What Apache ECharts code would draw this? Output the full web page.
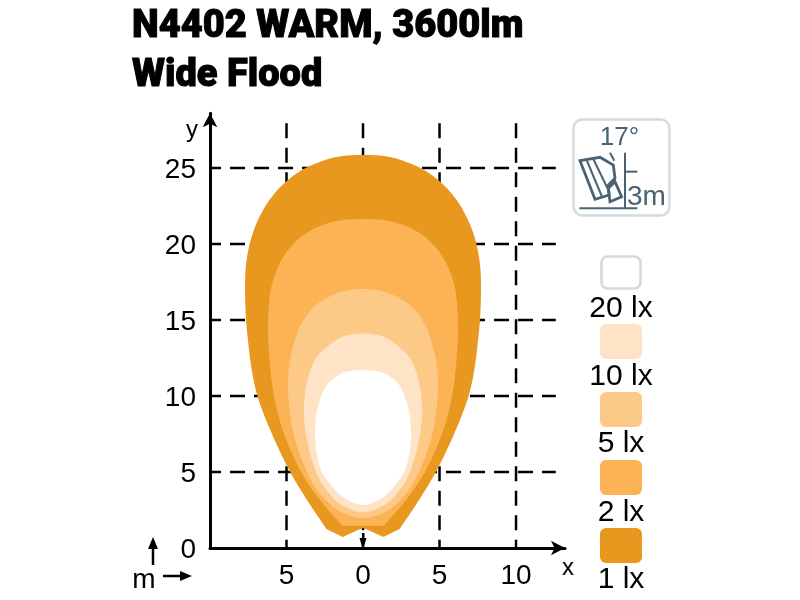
<!DOCTYPE html>
<html>
<head>
<meta charset="utf-8">
<style>html,body{margin:0;padding:0;background:#fff}#c{width:800px;height:600px}</style>
<script src="https://cdn.jsdelivr.net/npm/echarts@6/dist/echarts.min.js"></script>
</head>
<body>
<div id="c"></div>
<script>
// Half-widths (m) against distance (m); the pattern is symmetric about x = 0.
var curve1lx = [[0,25.86],[1.57,25.76],[2.47,25.53],[3.78,24.98],[4.49,24.54],[5.03,24.10],[5.59,23.55],[6.12,22.89],[6.41,22.45],[7.01,21.25],[7.41,20],[7.65,18.62],[7.71,17.17],[7.65,15.13],[7.52,13.68],[7.29,11.84],[6.90,10],[5.95,7.5],[4.77,5.02],[3.66,3.16],[2.39,1.25]];
var base1lx = [[1.33,0.72],[0.33,1.18],[0,1.32]];
var curve2lx = [[0,21.64],[1.31,21.58],[2.14,21.41],[2.94,21.14],[3.89,20.59],[4.56,20],[5.20,19.16],[5.69,18.16],[6.03,16.97],[6.21,14.67],[6.11,12.37],[5.82,10],[5.16,7.5],[4.05,5.02],[2.81,3.16],[1.37,1.47]];
var base2lx = [[0,1.47]];
var curve5lx = [[0,17.04],[1.05,16.94],[1.83,16.71],[3.20,15.88],[4.12,14.56],[4.44,13.68],[4.77,12.37],[4.90,10.72],[4.80,9.08],[4.44,7.11],[3.66,5.02],[3.01,3.82],[1.96,2.72],[1.18,2.24],[0,1.97]];
var curve10lx = [[0,14.11],[1.18,13.95],[1.76,13.68],[3.0,12.59],[3.63,11.05],[3.86,9.08],[3.66,7.11],[3.07,5.02],[2.39,3.82],[1.41,2.83],[0,2.37]];
var curve20lx = [[0,11.71],[0.9,11.64],[1.35,11.51],[2.26,10.86],[2.94,9.3],[3.14,7.3],[2.94,5.79],[2.7,5.02],[2.35,4.47],[1.37,3.38],[0,2.83]];

var legendLabels = ['20 lx','10 lx','5 lx','2 lx','1 lx'];
var legendColors = ['#ffffff','#fee3c7','#fdc986','#fbb355','#e8981f'];
var gridX = [-5,0,5,10];
var gridY = [5,10,15,20,25];
var titleText = 'N4402 WARM, 3600lm\nWide Flood';

var levels = [
  {name:'1 lx', curve:curve1lx, base:base1lx, color:'#e8981f'},
  {name:'2 lx', curve:curve2lx, base:base2lx, color:'#fbb355'},
  {name:'5 lx', curve:curve5lx, base:[], color:'#fdc986'},
  {name:'10 lx', curve:curve10lx, base:[], color:'#fee3c7'},
  {name:'20 lx', curve:curve20lx, base:[], color:'#ffffff'}
];

// Centripetal Catmull-Rom drawing of the traced outline: same job as a "smooth" line.
function lerp(a,b,ta,tb,t){return [0,1].map(function(j){return (a[j]*(tb-t)+b[j]*(t-ta))/(tb-ta);});}
function spline(p,closedEnd){
  var out=[];
  for(var i=0;i<p.length-1;i++){
    var b=p[i],c=p[i+1];
    var a=i>0?p[i-1]:[-c[0],c[1]];
    var d=i<p.length-2?p[i+2]:(closedEnd?[-b[0],b[1]]:[2*c[0]-b[0],2*c[1]-b[1]]);
    var gap=function(u,v){return Math.pow(Math.hypot(u[0]-v[0],u[1]-v[1]),0.5);};
    var t0=0,t1=t0+gap(a,b),t2=t1+gap(b,c),t3=t2+gap(c,d);
    for(var k=0;k<12;k++){
      var t=t1+(t2-t1)*k/12;
      var a1=lerp(a,b,t0,t1,t),a2=lerp(b,c,t1,t2,t),a3=lerp(c,d,t2,t3,t);
      var b1=lerp(a1,a2,t0,t2,t),b2=lerp(a2,a3,t1,t3,t);
      out.push(lerp(b1,b2,t1,t2,t));
    }
  }
  out.push(p[p.length-1]);
  return out;
}
function outline(level){
  var right=spline(level.curve,level.base.length===0).concat(level.base);
  var left=right.slice().reverse().map(function(q){return [-q[0],q[1]];});
  return right.concat(left);
}

var series=[];
gridX.forEach(function(x){
  series.push({type:'line',silent:true,showSymbol:false,z:1,data:[[x,27.95],[x,0]],
    lineStyle:{color:'#000',width:2.5,type:[15,9.5]}});
});
gridY.forEach(function(y){
  series.push({type:'line',silent:true,showSymbol:false,z:1,data:[[-10,y],[12.6,y]],
    lineStyle:{color:'#000',width:2.5,type:[15,9],dashOffset:4}});
});
levels.forEach(function(level,n){
  var pts=outline(level);
  series.push({
    type:'custom',name:level.name,silent:true,z:2+n,clip:false,
    data:[[0,0]],encode:{x:0,y:1},
    renderItem:function(params,api){
      return {type:'polygon',shape:{points:pts.map(function(q){return api.coord(q);})},
        style:{fill:level.color,stroke:null}};
    }
  });
});

var g=[];
function txt(t,x,baseline,size,fill,align){
  return {type:'text',x:x,y:baseline+Math.round(size*0.2),style:{text:t,fill:fill,font:size+'px "Liberation Sans"',align:align,verticalAlign:'bottom'}};
}
// legend
var swatchTop=[255,324,392,460,528], labelBase=[317,385,452,521,588];
legendLabels.forEach(function(t,i){
  g.push({type:'rect',shape:{x:i===0?601.5:600,y:i===0?swatchTop[i]+1.5:swatchTop[i],width:i===0?39:42,height:i===0?32:35,r:6},
    style:{fill:legendColors[i],stroke:i===0?'#d8d8d8':null,lineWidth:2.5}});
  g.push(txt(t,621,labelBase[i]+1,30,'#000','center'));
});
// mounting icon
var ic='#4a6373';
function ip(list){return list.map(function(q){return [560+q[0]/3,110+q[1]/3];});}
g.push({type:'rect',shape:{x:573.5,y:119.5,width:96,height:96,r:9},style:{fill:'#fff',stroke:'#d6dadd',lineWidth:2.5}});
g.push(txt('17°',619.5,146,26,ic,'center'));
g.push(txt('3m',627,205,28,ic,'left'));
[
 {p:[[195,128],[195,295]]},{p:[[58,295],[232,295]]},{p:[[195,185],[232,185]]},{p:[[150,128],[163,152]]},
 {p:[[80,150],[125,258]]},{p:[[100,147],[145,240]]}
].forEach(function(o){
  g.push({type:'polyline',shape:{points:ip(o.p)},style:{stroke:ic,lineWidth:2,fill:null}});
});
g.push({type:'polygon',shape:{points:ip([[60,152],[120,142],[160,165],[165,205],[145,225],[147,255],[105,268]])},style:{fill:null,stroke:ic,lineWidth:2.8}});
g.push({type:'polygon',shape:{points:ip([[145,235],[165,215],[185,260],[150,275]])},style:{fill:null,stroke:ic,lineWidth:2.8}});
// unit arrows
g.push({type:'line',shape:{x1:153,y1:565,x2:153,y2:545},style:{stroke:'#000',lineWidth:2.5}});
g.push({type:'polygon',shape:{points:[[153,537],[148,549],[158,549]]},style:{fill:'#000'}});
g.push({type:'line',shape:{x1:163,y1:576,x2:183,y2:576},style:{stroke:'#000',lineWidth:2.5}});
g.push({type:'polygon',shape:{points:[[192,576],[180,571],[180,581]]},style:{fill:'#000'}});
g.push(txt('m',144,588,28,'#000','center'));
// lamp marker
g.push({type:'polygon',z:20,shape:{points:[[362,533],[364.5,533],[364.5,538],[366.5,538],[363,550],[359.5,538],[362,538]]},style:{fill:'#000'}});

var chart=echarts.init(document.getElementById('c'));
chart.setOption({
  animation:false,
  backgroundColor:'#fff',
  title:{text:titleText,left:127,top:-2,textStyle:{fontFamily:'Roboto',fontWeight:900,fontSize:38,lineHeight:49,color:'#000',textBorderColor:'#000',textBorderWidth:1}},
  grid:{left:210,right:235,top:113.3,bottom:52,containLabel:false},
  xAxis:{type:'value',min:-10,max:13.2,interval:5,name:'x',nameLocation:'end',nameGap:-3,
    nameTextStyle:{color:'#000',fontFamily:'Liberation Sans',fontSize:24,verticalAlign:'top',align:'left',padding:[8,0,0,0]},
    splitLine:{show:false},axisTick:{show:false},
    axisLine:{onZero:false,symbol:['none','arrow'],symbolSize:[11,14],lineStyle:{color:'#000',width:3}},
    axisLabel:{color:'#000',fontFamily:'Liberation Sans',fontSize:28,margin:14,showMinLabel:false,showMaxLabel:false,
      formatter:function(v){return String(Math.abs(v));}}},
  yAxis:{type:'value',min:0,max:28.6,interval:5,name:'y',nameLocation:'end',nameGap:-5,
    nameTextStyle:{color:'#000',fontFamily:'Liberation Sans',fontSize:24,align:'right',verticalAlign:'top',padding:[0,12,0,0]},
    splitLine:{show:false},axisTick:{show:false},
    axisLine:{onZero:false,symbol:['none','arrow'],symbolSize:[11,14],lineStyle:{color:'#000',width:3}},
    axisLabel:{color:'#000',fontFamily:'Liberation Sans',fontSize:28,margin:14,showMaxLabel:false,verticalAlign:'top',lineHeight:4}},
  graphic:g,
  series:series
});
</script>
</body>
</html>
